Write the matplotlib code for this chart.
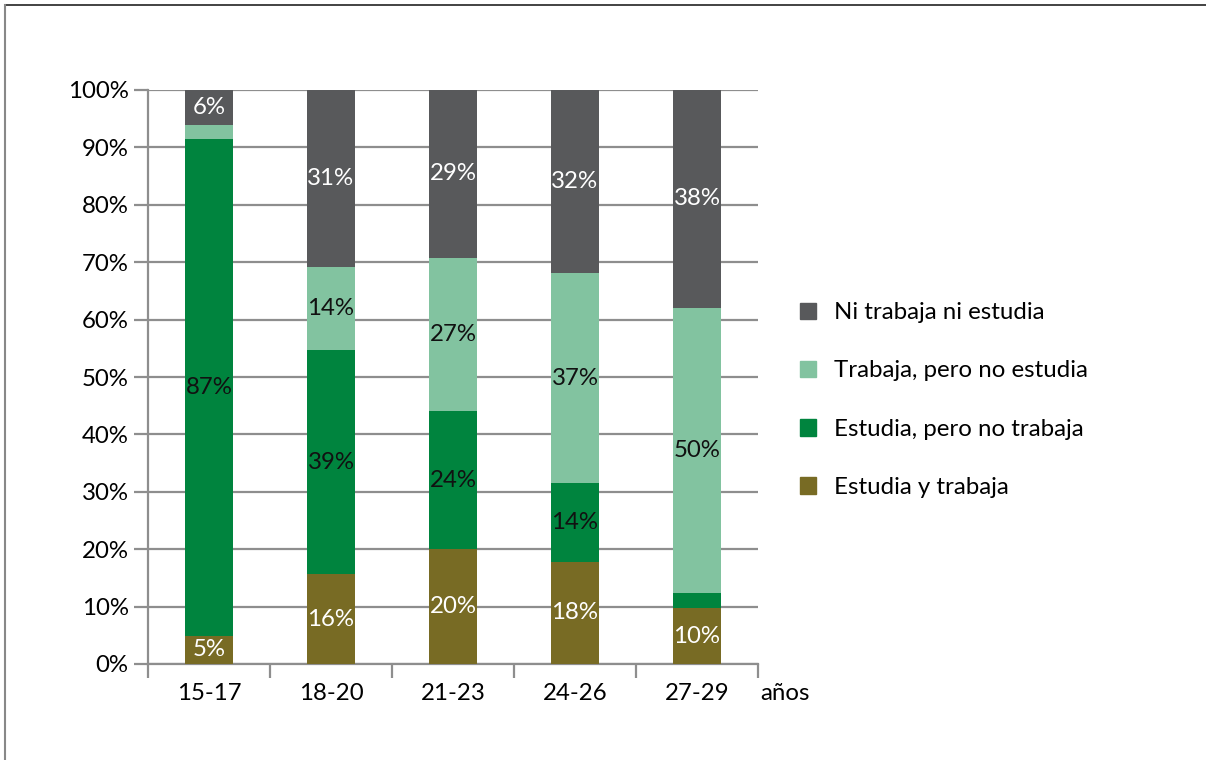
import matplotlib.pyplot as plt
from matplotlib.patches import Patch
from matplotlib.lines import Line2D
import numpy as np

plt.rcParams['font.family'] = ['Lato', 'DejaVu Sans']

# age groups and shares (%) for each activity status
grupos = ['15-17', '18-20', '21-23', '24-26', '27-29']
estudia_trabaja = [4.9, 15.6, 20.1, 17.8, 9.7]
estudia_no_trabaja = [86.6, 39.1, 23.9, 13.7, 2.6]
trabaja_no_estudia = [2.4, 14.4, 26.8, 36.6, 49.8]
ni_ni = [6.1, 30.9, 29.2, 31.9, 37.9]

series = [
    ('Estudia y trabaja', estudia_trabaja, '#786b24', 'white'),
    ('Estudia, pero no trabaja', estudia_no_trabaja, '#00843e', '#111111'),
    ('Trabaja, pero no estudia', trabaja_no_estudia, '#82c3a0', '#111111'),
    ('Ni trabaja ni estudia', ni_ni, '#58595b', 'white'),
]

fs = 17.3

fig = plt.figure(figsize=(12.06, 7.6), dpi=100)
ax = fig.add_axes([148 / 1206, 1 - 664 / 760, 610 / 1206, 574 / 760])

x = np.arange(len(grupos))
base = np.zeros(len(grupos))
for name, vals, color, tcolor in series:
    vals = np.array(vals)
    ax.bar(x, vals, 0.39, bottom=base, color=color, zorder=3)
    for xi, b, v in zip(x, base, vals):
        if v >= 4:
            ax.text(xi, b + v / 2, f'{v:.0f}%', ha='center', va='center',
                    fontsize=fs, color=tcolor, zorder=4)
    base += vals

grid_c = '#8e8e8e'
ax.set_xlim(-0.5, len(grupos) - 0.5)
ax.set_ylim(0, 100)
ax.set_yticks(np.arange(0, 101, 10))
ax.set_yticklabels([f'{t}%' for t in range(0, 101, 10)], fontsize=fs)
ax.yaxis.grid(True, color=grid_c, lw=1.6, zorder=0)
ax.tick_params(axis='y', length=10, width=1.6, color=grid_c, pad=4)

# category labels between the boundary ticks
ax.set_xticks(np.arange(-0.5, len(grupos), 1))
ax.set_xticklabels([])
ax.set_xticks(x, minor=True)
ax.set_xticklabels(grupos, minor=True, fontsize=fs)
ax.tick_params(axis='x', which='major', length=10, width=1.6, color=grid_c)
ax.tick_params(axis='x', which='minor', length=0, pad=14)

for s in ['top', 'right']:
    ax.spines[s].set_visible(False)
for s in ['left', 'bottom']:
    ax.spines[s].set_color(grid_c)
    ax.spines[s].set_linewidth(1.6)

ax.text(4.52, -5.1, 'años', fontsize=fs, ha='left', va='center', clip_on=False)

handles = [Patch(color=c) for _, _, c, _ in series][::-1]
labels = [n for n, _, _, _ in series][::-1]
fig.legend(handles, labels, loc='center left', bbox_to_anchor=(778 / 1206, 1 - 400 / 760),
           frameon=False, fontsize=fs, handlelength=0.7, handleheight=0.7,
           handletextpad=0.75, labelspacing=1.54)

# outer frame
fig.add_artist(Line2D([5 / 1206, 1], [1 - 5 / 760, 1 - 5 / 760], color='#222222', lw=1.2))
fig.add_artist(Line2D([5 / 1206, 5 / 1206], [0, 1 - 5 / 760], color='#888888', lw=1.5))

fig.savefig('out.png', dpi=100)
